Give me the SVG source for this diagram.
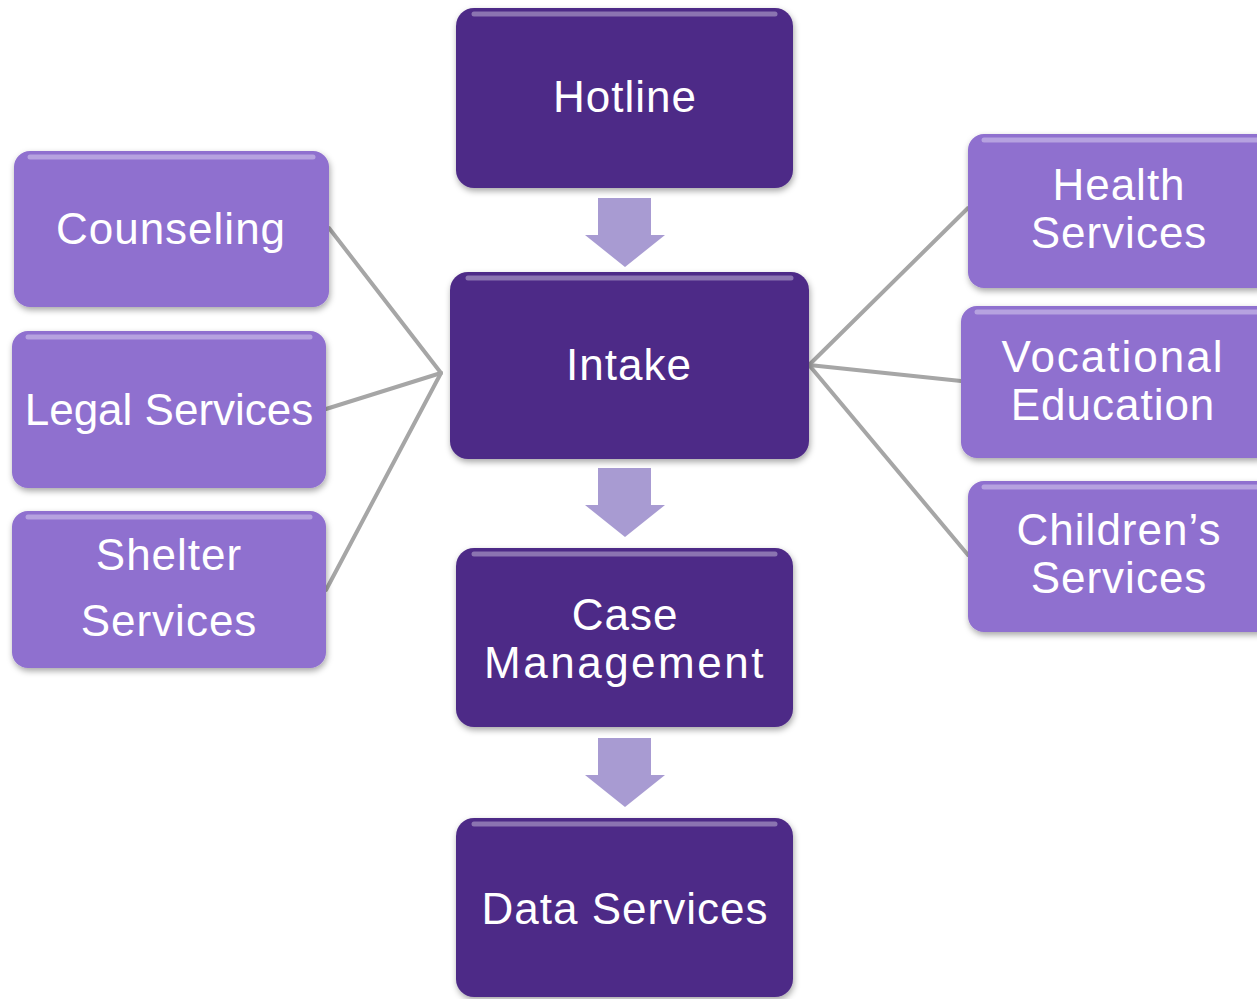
<svg xmlns="http://www.w3.org/2000/svg" width="1257" height="999" viewBox="0 0 1257 999">
<style>
.dark{fill:#4e2b87;}
.light{fill:#8f6fcf;}
.t{font-family:"Liberation Sans",Arial,sans-serif;font-size:44px;fill:#ffffff;text-anchor:middle;letter-spacing:1px;}
.hl{fill:none;stroke:#ffffff;stroke-opacity:0.35;stroke-width:5;stroke-linecap:round;}
.conn{stroke:#a6a6a6;stroke-width:4;fill:none;stroke-linecap:round;}
.arrow{fill:#a89bd2;}
</style>
<defs>
<filter id="sh" x="-10%" y="-10%" width="120%" height="125%">
<feDropShadow dx="1" dy="3" stdDeviation="3" flood-color="#000" flood-opacity="0.35"/>
</filter>
</defs>
<g id="connectors">
<line class="conn" x1="329" y1="228" x2="441" y2="373"/>
<line class="conn" x1="326" y1="409" x2="441" y2="373"/>
<line class="conn" x1="326" y1="590" x2="441" y2="373"/>
<line class="conn" x1="809" y1="365" x2="968" y2="208"/>
<line class="conn" x1="809" y1="365" x2="961" y2="381"/>
<line class="conn" x1="809" y1="365" x2="968" y2="555"/>
<polygon class="arrow" points="598,198 651,198 651,235 665,235 625,267 585,235 598,235"/>
<polygon class="arrow" points="598,468 651,468 651,505 665,505 625,537 585,505 598,505"/>
<polygon class="arrow" points="598,738 651,738 651,775 665,775 625,807 585,775 598,775"/>
</g>
<g id="hotline">
<rect class="dark" x="456" y="8" width="337" height="180" rx="18" filter="url(#sh)"/>
<line class="hl" x1="474" y1="14" x2="775" y2="14"/>
<text class="t" x="625" y="112">Hotline</text>
</g>
<g id="intake">
<rect class="dark" x="450" y="272" width="359" height="187" rx="18" filter="url(#sh)"/>
<line class="hl" x1="468" y1="278" x2="791" y2="278"/>
<text class="t" x="629" y="380">Intake</text>
</g>
<g id="case-management">
<rect class="dark" x="456" y="548" width="337" height="179" rx="18" filter="url(#sh)"/>
<line class="hl" x1="474" y1="554" x2="775" y2="554"/>
<text class="t" x="625" y="630">Case</text>
<text class="t" x="625" y="678" style="letter-spacing:2.5px">Management</text>
</g>
<g id="data-services">
<rect class="dark" x="456" y="818" width="337" height="179" rx="18" filter="url(#sh)"/>
<line class="hl" x1="474" y1="824" x2="775" y2="824"/>
<text class="t" x="625" y="924">Data Services</text>
</g>
<g id="counseling">
<rect class="light" x="14" y="151" width="315" height="156" rx="16" filter="url(#sh)"/>
<line class="hl" x1="30" y1="157" x2="313" y2="157"/>
<text class="t" x="171" y="244">Counseling</text>
</g>
<g id="legal-services">
<rect class="light" x="12" y="331" width="314" height="157" rx="16" filter="url(#sh)"/>
<line class="hl" x1="28" y1="337" x2="310" y2="337"/>
<text class="t" x="169" y="425" style="letter-spacing:0">Legal Services</text>
</g>
<g id="shelter-services">
<rect class="light" x="12" y="511" width="314" height="157" rx="16" filter="url(#sh)"/>
<line class="hl" x1="28" y1="517" x2="310" y2="517"/>
<text class="t" x="169" y="570">Shelter</text>
<text class="t" x="169" y="636">Services</text>
</g>
<g id="health-services">
<rect class="light" x="968" y="134" width="305" height="154" rx="16" filter="url(#sh)"/>
<line class="hl" x1="984" y1="140" x2="1257" y2="140"/>
<text class="t" x="1119" y="200">Health</text>
<text class="t" x="1119" y="248">Services</text>
</g>
<g id="vocational-education">
<rect class="light" x="961" y="306" width="312" height="152" rx="16" filter="url(#sh)"/>
<line class="hl" x1="977" y1="312" x2="1257" y2="312"/>
<text class="t" x="1113" y="372" style="letter-spacing:2px">Vocational</text>
<text class="t" x="1113" y="420">Education</text>
</g>
<g id="childrens-services">
<rect class="light" x="968" y="481" width="305" height="151" rx="16" filter="url(#sh)"/>
<line class="hl" x1="984" y1="487" x2="1257" y2="487"/>
<text class="t" x="1119" y="545">Children’s</text>
<text class="t" x="1119" y="593">Services</text>
</g>
</svg>
